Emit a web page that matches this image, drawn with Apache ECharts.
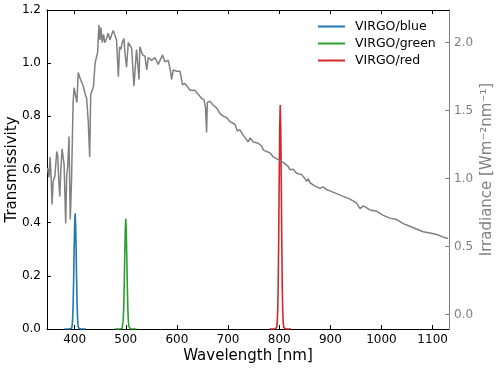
<!DOCTYPE html>
<html>
<head>
<meta charset="utf-8">
<script src="https://cdn.jsdelivr.net/npm/echarts@6/dist/echarts.min.js"></script>
<style>
  html, body { margin: 0; padding: 0; background: #fff; }
  #chart { width: 498px; height: 369px; }
</style>
</head>
<body>
<div id="chart"></div>
<script>
// solar spectrum (right axis)
var specWl = [347, 350, 352, 354, 356, 358, 361.5, 365, 367, 369, 371, 373, 375.5, 377.5, 379.5, 382.5, 384.5, 386.5, 389, 391.5, 394,
  397, 399, 402, 404.5, 407, 410.5, 413.5, 417, 420, 423.5, 426.5, 429.5, 431.5, 434.5, 437, 440, 443, 445, 447.5, 449.5,
  451.5, 454, 456.5, 459, 462.5, 465.5, 469, 472.5, 475.5, 479, 482, 485.5, 488, 490.5, 493, 496.5, 498.5, 501.5, 505, 511.5,
  516, 521, 526, 527.5, 533, 537.5, 541, 544, 550.5, 557, 563.5, 567, 572, 576.5, 583, 587.5, 589.5, 593, 599.5, 606,
  611, 615.5, 619, 622, 625.5, 629, 635, 641.5, 648.5, 653, 656, 658, 659.5, 664.5, 671, 677.5, 684, 690.5, 697,
  703.5, 713.5, 718, 723, 729.5, 733, 739.5, 743, 749.5, 759, 765.5, 769, 775.5, 782, 788.5, 798, 808, 817.5, 821, 827.5,
  834, 844, 850.5, 853.5, 857, 860, 866.5, 873, 879.5, 886, 892.5,
  899, 912.5, 925, 938.5, 951.5, 958, 964.5, 977.5, 990.5, 1003.5, 1016.5, 1029.5, 1042.5, 1055.5, 1068.5, 1081.5, 1095, 1108, 1121, 1130.5];
var specIrr = [1.08, 1.01, 1.16, 1.02, 0.81, 0.98, 1.02, 1.20, 1.17, 0.99, 0.87, 1.06, 1.22, 1.21, 1.10, 0.67, 1.02, 1.09, 1.31, 0.70, 0.99,
  1.56, 1.67, 1.68, 1.56, 1.78, 1.74, 1.75, 1.68, 1.63, 1.59, 1.43, 1.16, 1.62, 1.62, 1.68, 1.85, 1.86, 1.93, 2.13, 2.02,
  2.11, 2.00, 2.06, 2.00, 2.03, 2.07, 2.02, 2.06, 2.09, 2.08, 2.02, 1.75, 1.97, 1.95, 2.00, 2.03, 1.92, 1.82, 2.00, 1.96,
  1.68, 1.95, 1.73, 1.97, 1.91, 1.90, 1.80, 1.89, 1.87, 1.89, 1.84, 1.85, 1.91, 1.86, 1.87, 1.79, 1.73, 1.80, 1.79, 1.79,
  1.69, 1.70, 1.71, 1.67, 1.65, 1.64, 1.65, 1.62, 1.59, 1.58, 1.52, 1.34, 1.56, 1.57, 1.54, 1.52, 1.48, 1.46, 1.45,
  1.42, 1.40, 1.35, 1.36, 1.32, 1.33, 1.27, 1.30, 1.27, 1.26, 1.24, 1.21, 1.20, 1.19, 1.16, 1.14, 1.12, 1.09, 1.065, 1.07,
  1.04, 1.03, 1.00, 0.98, 1.00, 0.97, 0.955, 0.94, 0.93, 0.94, 0.92,
  0.91, 0.89, 0.87, 0.85, 0.82, 0.78, 0.80, 0.77, 0.76, 0.73, 0.71, 0.70, 0.67, 0.65, 0.63, 0.61, 0.60, 0.59, 0.57, 0.56];

// filter transmissivities (left axis)
var blueWl = [380, 390, 392, 394, 395, 396, 397, 398, 399, 400, 401, 402, 403, 404, 405, 406, 407, 408, 410, 412, 422];
var blueT = [0, 0, 0.001, 0.003, 0.011, 0.033, 0.083, 0.175, 0.29, 0.39, 0.435, 0.39, 0.29, 0.175, 0.083, 0.033, 0.011, 0.003, 0.001, 0, 0];
var greenWl = [478, 489, 491, 493, 494, 495, 496, 497, 498, 499, 500, 501, 502, 503, 504, 505, 506, 507, 509, 511, 521];
var greenT = [0, 0, 0.001, 0.003, 0.010, 0.031, 0.080, 0.165, 0.275, 0.37, 0.415, 0.37, 0.275, 0.165, 0.080, 0.031, 0.010, 0.003, 0.001, 0, 0];
var redWl = [781, 791, 793, 795, 796, 797, 798, 799, 800, 801, 802, 803, 804, 805, 806, 807, 808, 809, 811, 813, 823];
var redT = [0, 0, 0.002, 0.005, 0.020, 0.064, 0.16, 0.335, 0.56, 0.76, 0.843, 0.76, 0.56, 0.335, 0.16, 0.064, 0.020, 0.005, 0.002, 0, 0];

var xTicks = [400, 500, 600, 700, 800, 900, 1000, 1100];
var irrTicks = [0, 0.5, 1.0, 1.5, 2.0];

function pairs(xs, ys) {
  return xs.map(function(x, i) { return [x, ys[i]]; });
}

var chart = echarts.init(document.getElementById("chart"));
var font = "DejaVu Sans";
var grey = "#808080";

chart.setOption({
  animation: false,
  textStyle: { fontFamily: font },
  grid: { left: 47, right: 49, top: 10, bottom: 40, containLabel: false, outerBoundsMode: "none" },
  legend: {
    data: ["VIRGO/blue", "VIRGO/green", "VIRGO/red"],
    orient: "vertical",
    left: 318,
    top: 20,
    padding: 0,
    icon: "rect",
    itemWidth: 27,
    itemHeight: 2,
    itemGap: 4,
    textStyle: { fontFamily: font, fontSize: 12.5, color: "#000", padding: [0, 0, 0, 5] }
  },
  xAxis: [
    {
      type: "value",
      min: 346,
      max: 1132,
      name: "Wavelength [nm]",
      nameLocation: "middle",
      nameGap: 20,
      nameMoveOverlap: false,
      nameTextStyle: { fontFamily: font, fontSize: 15, color: "#000" },
      axisLine: { onZero: false, lineStyle: { color: "#000", width: 1 } },
      axisTick: { inside: true, length: 4, customValues: xTicks, lineStyle: { color: "#000" } },
      axisLabel: {
        customValues: xTicks, fontFamily: font, fontSize: 12, color: "#000", margin: 5,
        formatter: function(v) { return String(v); }
      },
      splitLine: { show: false }
    },
    {
      type: "value",
      position: "top",
      min: 346,
      max: 1132,
      axisLine: { onZero: false, lineStyle: { color: "#000", width: 1 } },
      axisTick: { inside: true, length: 4, customValues: xTicks, lineStyle: { color: "#000" } },
      axisLabel: { show: false },
      splitLine: { show: false }
    }
  ],
  yAxis: [
    {
      type: "value",
      min: 0,
      max: 1.2,
      interval: 0.2,
      name: "Transmissivity",
      nameLocation: "middle",
      nameGap: 27,
      nameMoveOverlap: false,
      nameTextStyle: { fontFamily: font, fontSize: 15, color: "#000" },
      axisLine: { show: true, onZero: false, lineStyle: { color: "#000", width: 1 } },
      axisTick: { show: true, inside: true, length: 4, lineStyle: { color: "#000" } },
      axisLabel: {
        fontFamily: font, fontSize: 12, color: "#000", margin: 6,
        formatter: function(v) { return v.toFixed(1); }
      },
      splitLine: { show: false }
    },
    {
      type: "value",
      position: "right",
      min: -0.105,
      max: 2.24,
      name: "Irradiance [Wm\u207B\u00B2nm\u207B\u00B9]",
      nameLocation: "middle",
      nameGap: 31,
      nameMoveOverlap: false,
      nameRotate: 90,
      nameTextStyle: { fontFamily: font, fontSize: 15, color: grey },
      axisLine: { show: true, onZero: false, lineStyle: { color: grey, width: 1 } },
      axisTick: { show: true, inside: true, length: 4, customValues: irrTicks, lineStyle: { color: grey } },
      axisLabel: {
        customValues: irrTicks, fontFamily: font, fontSize: 12, color: grey, margin: 5,
        formatter: function(v) { return v.toFixed(1); }
      },
      splitLine: { show: false }
    }
  ],
  series: [
    {
      name: "VIRGO/blue",
      type: "line",
      yAxisIndex: 0,
      showSymbol: false,
      data: pairs(blueWl, blueT),
      lineStyle: { color: "#1f77b4", width: 1.6 },
      itemStyle: { color: "#1f77b4" },
      z: 2
    },
    {
      name: "VIRGO/green",
      type: "line",
      yAxisIndex: 0,
      showSymbol: false,
      data: pairs(greenWl, greenT),
      lineStyle: { color: "#2ca02c", width: 1.6 },
      itemStyle: { color: "#2ca02c" },
      z: 2
    },
    {
      name: "VIRGO/red",
      type: "line",
      yAxisIndex: 0,
      showSymbol: false,
      data: pairs(redWl, redT),
      lineStyle: { color: "#d62728", width: 1.6 },
      itemStyle: { color: "#d62728" },
      z: 2
    },
    {
      name: "Irradiance",
      type: "line",
      yAxisIndex: 1,
      showSymbol: false,
      data: pairs(specWl, specIrr),
      lineStyle: { color: grey, width: 1.5 },
      itemStyle: { color: grey },
      z: 3
    }
  ]
});
</script>
</body>
</html>
